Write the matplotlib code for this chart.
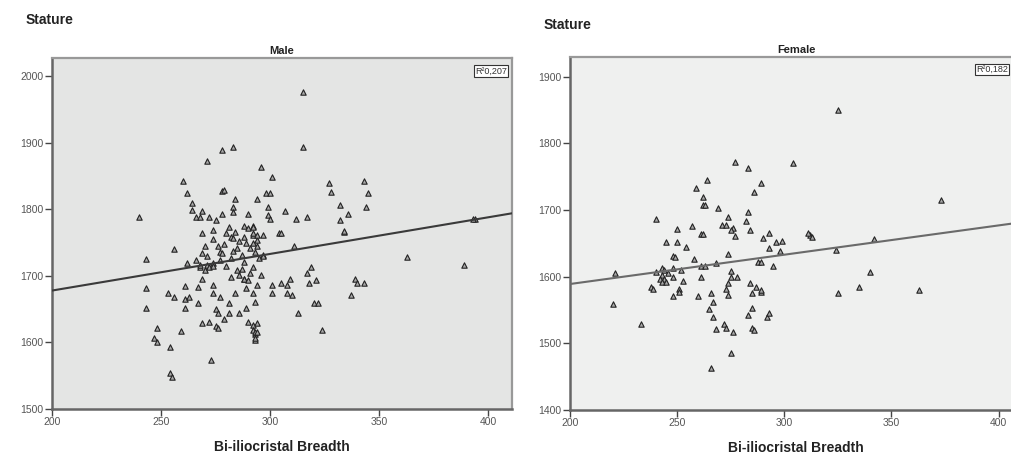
import numpy as np
import matplotlib
matplotlib.use("Agg")
import matplotlib.pyplot as plt

plt.rcParams['font.family'] = ['Liberation Sans', 'DejaVu Sans']

# --- Male: Bi-iliocristal Breadth vs Stature ---
male_x = [240, 243, 256, 243, 243, 248, 247, 248, 254, 254, 255, 259, 273, 253, 256,
          261, 261, 261, 263, 267, 267, 269, 272, 274, 274, 275, 276, 275, 276, 277,
          279, 281, 281, 284, 286, 289, 290, 292, 292, 293, 293, 293, 294, 288, 289,
          292, 294, 293, 294, 293, 301, 301, 305, 308, 309, 308, 310, 313, 317, 319,
          318, 321, 320, 322, 324, 337, 339, 340, 343, 389, 315, 296, 301, 298, 300,
          294, 299, 299, 300, 307, 312, 317, 327, 328, 332, 336, 332, 334, 334, 343,
          345, 344, 394, 393, 304, 305, 311, 297, 295, 363, 315, 283, 278, 271, 260,
          262, 264, 264, 269, 266, 268, 272, 275, 278, 278, 279, 283, 283, 284, 290,
          269, 274, 274, 270, 269, 271, 276, 277, 281, 282, 283, 288, 290, 292, 288,
          292, 294, 289, 285, 287, 291, 262, 266, 268, 271, 274, 277, 282, 288, 292,
          268, 270, 269, 272, 274, 280, 282, 285, 286, 288, 290, 292, 292, 294, 297,
          292, 294, 293, 297, 279, 283, 280, 286, 278, 296, 291, 287, 284]
male_y = [1788, 1725, 1740, 1682, 1652, 1622, 1607, 1600, 1593, 1554, 1548, 1617, 1573, 1674, 1668,
          1685, 1665, 1652, 1668, 1683, 1659, 1629, 1631, 1686, 1674, 1650, 1644, 1625, 1622, 1668,
          1635, 1644, 1659, 1675, 1644, 1652, 1631, 1626, 1619, 1613, 1604, 1661, 1686, 1696, 1682,
          1674, 1629, 1616, 1616, 1607, 1686, 1674, 1689, 1686, 1696, 1674, 1671, 1645, 1704, 1713,
          1689, 1694, 1659, 1659, 1619, 1671, 1696, 1690, 1689, 1716, 1893, 1863, 1848, 1824, 1824,
          1815, 1803, 1791, 1786, 1797, 1785, 1788, 1839, 1826, 1806, 1793, 1784, 1766, 1767, 1842,
          1824, 1803, 1786, 1786, 1764, 1764, 1745, 1731, 1727, 1728, 1977, 1893, 1889, 1872, 1842,
          1824, 1809, 1799, 1797, 1788, 1788, 1788, 1784, 1793, 1828, 1829, 1803, 1796, 1815, 1793,
          1764, 1769, 1755, 1745, 1734, 1730, 1745, 1736, 1773, 1758, 1757, 1775, 1772, 1775, 1758,
          1761, 1754, 1749, 1742, 1731, 1742, 1719, 1724, 1713, 1716, 1719, 1724, 1727, 1721, 1713,
          1716, 1709, 1696, 1713, 1715, 1715, 1699, 1709, 1701, 1696, 1694, 1773, 1764, 1761, 1761,
          1749, 1745, 1736, 1730, 1748, 1738, 1764, 1752, 1735, 1702, 1705, 1711, 1766]

# --- Female ---
female_x = [277, 283, 289, 286, 264, 259, 262, 262, 263, 269, 274, 283, 282, 284, 271,
            273, 276, 275, 277, 240, 250, 257, 261, 262, 245, 250, 254, 248, 249, 258,
            274, 290, 293, 288, 268, 261, 263, 248, 252, 240, 243, 243, 242, 244, 248,
            261, 275, 275, 278, 274, 284, 287, 253, 221, 238, 251, 220, 233, 239, 248,
            251, 260, 266, 267, 265, 267, 268, 272, 273, 276, 275, 266, 273, 274, 289,
            285, 285, 283, 285, 286, 292, 243, 245, 304, 373, 312, 311, 313, 293, 296,
            299, 298, 342, 324, 295, 289, 340, 335, 325, 363, 289, 293, 325, 246, 244]
female_y = [1772, 1763, 1740, 1727, 1745, 1733, 1719, 1707, 1707, 1703, 1690, 1697, 1684, 1670, 1677,
            1677, 1673, 1670, 1661, 1686, 1671, 1676, 1664, 1664, 1652, 1652, 1645, 1631, 1629, 1626,
            1634, 1658, 1643, 1622, 1621, 1616, 1616, 1613, 1610, 1607, 1613, 1602, 1597, 1597, 1600,
            1600, 1608, 1600, 1600, 1591, 1591, 1585, 1594, 1605, 1585, 1581, 1559, 1529, 1581, 1571,
            1577, 1571, 1575, 1562, 1551, 1540, 1521, 1529, 1523, 1517, 1485, 1463, 1581, 1572, 1577,
            1575, 1553, 1543, 1523, 1520, 1540, 1592, 1592, 1770, 1715, 1662, 1665, 1660, 1665, 1652,
            1653, 1639, 1656, 1640, 1616, 1622, 1607, 1585, 1575, 1580, 1580, 1545, 1850, 1605, 1610]

# fitted lines (value at x=200 and slope)
male_fit = (1678, 0.55)
female_fit = (1589, 0.44)
male_r2 = "R²0,207"
female_r2 = "R²0,182"

fig = plt.figure(figsize=(10.12, 4.55), dpi=100)

panels = [
    # rect, xs, ys, fit, r2, r2 x (fig frac), title, ylim, bg, line colour
    ([0.0514, 0.101, 0.4545, 0.771], male_x, male_y, male_fit, male_r2, 0.501, "Male",
     (1500, 2027), "#e4e5e4", "#3a3a3a"),
    ([0.563, 0.099, 0.447, 0.776], female_x, female_y, female_fit, female_r2, 0.996, "Female",
     (1400, 1930), "#eff0ef", "#6a6a6a"),
]

for rect, xs, ys, fit, r2, r2x, title, ylim, bg, lc in panels:
    ax = fig.add_axes(rect)
    ax.set_facecolor(bg)
    ax.set_xlim(200, 411)
    ax.set_ylim(*ylim)

    ax.scatter(xs, ys, marker="^", s=15, facecolor="#a8a8a8", edgecolor="#222",
               linewidths=0.8, zorder=3)

    lx = np.array([200, 411])
    ax.plot(lx, fit[0] + fit[1] * (lx - 200), color=lc, lw=1.5, zorder=4)

    ax.set_xticks([200, 250, 300, 350, 400])
    ax.set_yticks(np.arange(ylim[0], ylim[1], 100))
    ax.tick_params(direction="out", length=5, width=1, colors="#444",
                   labelsize=7.5, labelcolor="#555", pad=1)
    for s in ["left", "bottom"]:
        ax.spines[s].set_color("#666")
        ax.spines[s].set_linewidth(1.8)
    for s in ["top", "right"]:
        ax.spines[s].set_color("#999")
        ax.spines[s].set_linewidth(1.6)

    ax.set_title(title, fontsize=8, fontweight="bold", pad=3, color="#222")
    ax.set_xlabel("Bi-iliocristal Breadth", fontsize=10, fontweight="bold",
                  color="#222", labelpad=9)
    ax.text(r2x, rect[1] + rect[3] - 0.018, r2, transform=fig.transFigure,
            ha="right", va="top", fontsize=6.5, color="#333", zorder=6,
            bbox=dict(boxstyle="square,pad=0.15", fc="white", ec="#333", lw=0.8))

fig.text(0.025, 0.955, "Stature", fontsize=10, fontweight="bold", color="#222",
         ha="left", va="center")
fig.text(0.537, 0.945, "Stature", fontsize=10, fontweight="bold", color="#222",
         ha="left", va="center")

fig.savefig("out.png", dpi=100)
